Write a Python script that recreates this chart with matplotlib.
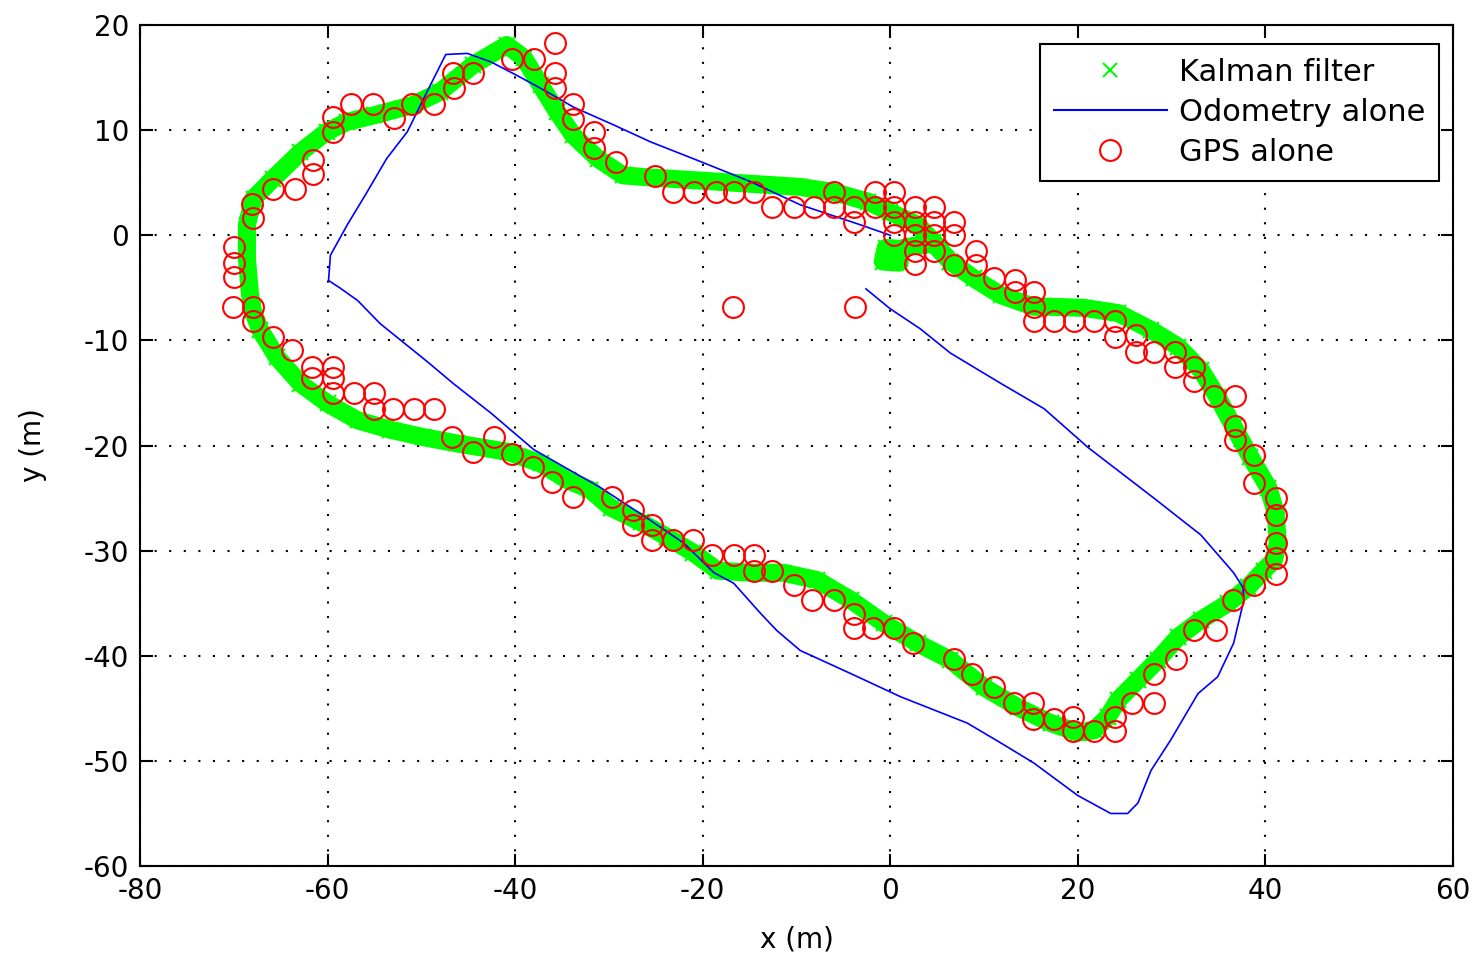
import numpy as np
import matplotlib.pyplot as plt
from matplotlib.lines import Line2D

# Kalman filter estimate (path)
kalman_x = [0.0, 1.0, -0.8, -0.5, 1.0, 2.5, 4.6, 6.4, 8.9, 11.8, 15.3, 17.1, 20.6, 24.3,
            27.8, 30.7, 33.1, 34.9, 36.6, 38.4, 40.3, 41.1, 41.3, 40.9, 39.8, 38.1, 36.0,
            33.1, 30.7, 28.5, 26.4, 24.3, 23.2, 21.7, 20.0, 17.1, 13.6, 10.0, 6.4, 2.9,
            -0.7, -4.2, -7.8, -11.4, -14.9, -18.4, -21.0, -23.8, -26.6, -29.8, -32.0,
            -34.4, -37.3, -40.8, -46.2, -49.8, -53.3, -56.8, -60.0, -62.9, -65.4, -67.2,
            -68.0, -68.3, -68.6, -68.6, -67.9, -65.8, -62.9, -60.1, -57.9, -55.1, -50.9,
            -48.0, -44.5, -40.9, -39.1, -37.3, -35.5, -33.8, -31.2, -28.5, -25.6, -20.2,
            -14.9, -9.6, -6.0, -2.4, 0.0, 2.9, 4.6, 6.4]
kalman_y = [-2.0, -2.6, -2.5, -1.2, -1.3, -1.0, -0.8, -2.5, -4.1, -5.7, -6.8, -6.8, -6.9,
            -7.4, -9.0, -10.6, -12.8, -15.4, -18.2, -21.1, -24.0, -26.4, -29.3, -30.9,
            -31.9, -33.5, -35.0, -36.6, -38.2, -40.4, -42.3, -44.2, -45.8, -47.1, -47.3,
            -46.4, -44.9, -43.0, -40.4, -38.8, -36.9, -34.7, -32.8, -32.1, -32.1, -31.9,
            -30.2, -28.7, -27.3, -25.9, -24.2, -23.3, -21.7, -20.6, -19.8, -19.2, -18.5,
            -17.6, -16.0, -14.1, -11.6, -9.0, -7.1, -5.4, -2.2, 1.0, 3.5, 5.4, 7.9, 9.85,
            10.8, 11.4, 12.4, 13.65, 16.2, 18.1, 16.9, 14.3, 11.7, 9.5, 7.3, 5.7, 5.5,
            5.2, 4.9, 4.6, 4.1, 3.2, 2.2, 1.0, -0.6, -2.5]

# Odometry alone
odo_x = [-2.6, 0.0, 3.2, 6.4, 11.8, 16.4, 21.1, 24.6, 28.1, 33.1, 36.6, 37.6, 37.7, 36.6,
         34.9, 32.8, 29.9, 27.8, 26.4, 25.3, 23.5, 20.0, 15.3, 11.8, 8.2, 1.1, -4.2, -9.6,
         -12.1, -13.8, -16.7, -18.8, -22.0, -25.6, -30.9, -38.0, -42.6, -46.6, -49.4,
         -54.4, -56.8, -58.7, -59.9, -59.7, -57.9, -55.8, -53.7, -51.5, -49.4, -47.4,
         -45.1, -42.6, -39.8, -36.6, -33.8, -29.5, -25.6, -20.2, -14.9, -9.6, -3.2, 0.0]
odo_y = [-5.1, -7.0, -8.9, -11.2, -14.1, -16.5, -20.2, -22.6, -25.0, -28.5, -32.1, -33.5,
         -34.7, -38.8, -42.0, -43.6, -48.0, -50.9, -54.0, -55.0, -55.0, -53.3, -50.2, -48.3,
         -46.4, -43.9, -41.7, -39.5, -37.6, -36.0, -33.1, -32.1, -29.3, -27.1, -24.0, -20.4,
         -16.9, -14.1, -12.0, -8.4, -6.2, -5.0, -4.3, -1.9, 1.0, 4.1, 7.3, 9.85, 13.65,
         17.2, 17.3, 16.5, 15.2, 13.65, 12.2, 10.5, 8.9, 7.0, 5.1, 2.9, 1.0, 0.0]

# GPS alone
gps_x = [-35.8, -40.3, -38.0, -35.8, -35.8, -46.6, -44.5, -46.5, -48.7, -51.0, -33.8, -33.8,
         -31.6, -31.6, -29.3, -57.5, -55.2, -52.9, -59.4, -59.4, -61.6, -61.6, -65.8, -63.5,
         -68.1, -68.0, -70.0, -70.0, -70.0, -70.1, -68.0, -68.0, -65.8, -63.8,
         -25.1, -23.2, -20.9, -18.6, -16.7, -14.5, -12.6, -10.3, -8.1, -6.0, -6.0, -3.9,
         -3.9, -1.6, 0.4, -1.6, 0.4, 0.4, 0.4, 2.6, 4.7, 2.6, 4.7, 6.8, 2.6, 4.7, 6.8, 2.6,
         4.7, 2.6, 9.1, 9.1, 6.8, 11.1, 13.3, 13.3, 15.3, 15.3, 15.3, 17.5, 19.6, 21.7,
         -16.75, -3.8,
         24.0, 24.0, 26.2, 26.2, 28.1, 30.3, 30.3, 32.4, 32.4, 34.5, 36.8, 36.8, 36.8, 38.8,
         38.8, 41.1, 41.1, 41.1, 41.1, 41.1, 38.8, 36.5,
         32.4, 34.7, 30.5, 28.1, 25.8, 28.1, 24.0, 24.0, 21.7, 19.5, 19.5, 17.5, 15.2, 15.2,
         13.2, 11.1, 8.7, 6.8,
         2.4, 0.4, -1.9, -3.9, -3.9, -6.0, -8.3, -10.3, -12.6, -14.5, -14.5, -16.7, -19.0,
         -21.0, -23.2, -25.4, -25.4, -27.4, -27.4, -29.7, -33.8, -36.1, -38.1, -40.3,
         -61.7, -59.4, -61.7, -59.4, -59.4, -57.2, -55.1, -55.1, -53.0, -50.8, -48.7, -46.7,
         -44.5, -42.3]
gps_y = [18.3, 16.8, 16.8, 15.4, 14.0, 15.4, 15.4, 14.0, 12.5, 12.5, 12.5, 11.1, 9.85, 8.3,
         7.0, 12.5, 12.5, 11.2, 11.3, 9.8, 7.2, 5.8, 4.4, 4.4, 3.0, 1.6, -1.1, -2.6, -4.0,
         -6.8, -6.8, -8.2, -9.65, -10.9,
         5.6, 4.1, 4.1, 4.1, 4.1, 4.1, 2.7, 2.7, 2.7, 4.1, 2.7, 2.7, 1.3, 4.1, 4.1, 2.7, 2.7,
         1.3, 0.0, 2.7, 2.7, 1.3, 1.3, 1.3, 0.0, 0.0, 0.0, -1.5, -1.5, -2.7, -1.5, -2.8,
         -2.8, -4.1, -4.3, -5.4, -5.4, -6.8, -8.2, -8.2, -8.2, -8.2,
         -6.8, -6.8,
         -8.2, -9.7, -9.5, -11.1, -11.1, -11.1, -12.5, -12.5, -13.9, -15.3, -15.3, -18.1,
         -19.5, -20.9, -23.6, -25.0, -26.6, -29.3, -30.7, -32.2, -33.3, -34.7,
         -37.5, -37.5, -40.3, -41.7, -44.5, -44.5, -45.8, -47.2, -47.2, -47.2, -45.8, -46.0,
         -46.0, -44.5, -44.5, -43.0, -41.7, -40.3,
         -38.8, -37.4, -37.4, -37.4, -36.0, -34.7, -34.7, -33.3, -31.9, -31.9, -30.4, -30.4,
         -30.4, -29.0, -29.0, -29.0, -27.6, -27.6, -26.1, -24.9, -24.9, -23.5, -22.0, -20.8,
         -12.5, -12.5, -13.6, -13.6, -15.0, -15.0, -15.0, -16.5, -16.5, -16.5, -16.5, -19.2,
         -20.6, -19.2]

plt.rcParams['font.family'] = ['DejaVu Sans']
plt.rcParams['axes.unicode_minus'] = False

fig = plt.figure(figsize=(14.77, 9.56), dpi=100)
ax = fig.add_axes([0.0948, 0.0941, 0.8890, 0.8797])

green = '#00ff00'
# dense green band of Kalman estimates
ax.plot(kalman_x, kalman_y, '-', color=green, lw=13,
        solid_capstyle='round', solid_joinstyle='round', zorder=2)
ax.plot(kalman_x, kalman_y, 'x', color=green, ms=12, mew=1.5, zorder=2)
ax.plot(odo_x, odo_y, '-', color='#0000ff', lw=1.2, zorder=3)
ax.plot(gps_x, gps_y, 'o', mfc='none', mec='#ff0000', ms=15, mew=1.5, zorder=4)

ax.set_xlim(-80, 60)
ax.set_ylim(-60, 20)
ax.set_xticks(np.arange(-80, 61, 20))
ax.set_yticks(np.arange(-60, 21, 10))
ax.grid(True, color='black', linestyle=(0, (1, 6)), linewidth=1.5)
ax.tick_params(direction='in', length=9, width=1.5, top=True, right=True,
               labelsize=20, pad=8)
for s in ax.spines.values():
    s.set_linewidth(1.5)

ax.set_xlabel('x (m)', fontsize=20, labelpad=15)
ax.set_ylabel('y (m)', fontsize=20, labelpad=26)

handles = [
    Line2D([], [], linestyle='none', marker='x', color=green, ms=10, mew=1.5),
    Line2D([], [], color='#0000ff', lw=1.5),
    Line2D([], [], linestyle='none', marker='o', mfc='none', mec='#ff0000', ms=15, mew=1.5),
]
leg = ax.legend(handles, ['Kalman filter', 'Odometry alone', 'GPS alone'],
                loc='upper right', bbox_to_anchor=(0.9893, 0.9774), borderaxespad=0,
                fontsize=22, handlelength=3.7, handletextpad=0.4, labelspacing=0.36,
                fancybox=False, framealpha=1, edgecolor='black', borderpad=0.45)
leg.get_frame().set_linewidth(1.5)

fig.savefig('out.png', dpi=100)
